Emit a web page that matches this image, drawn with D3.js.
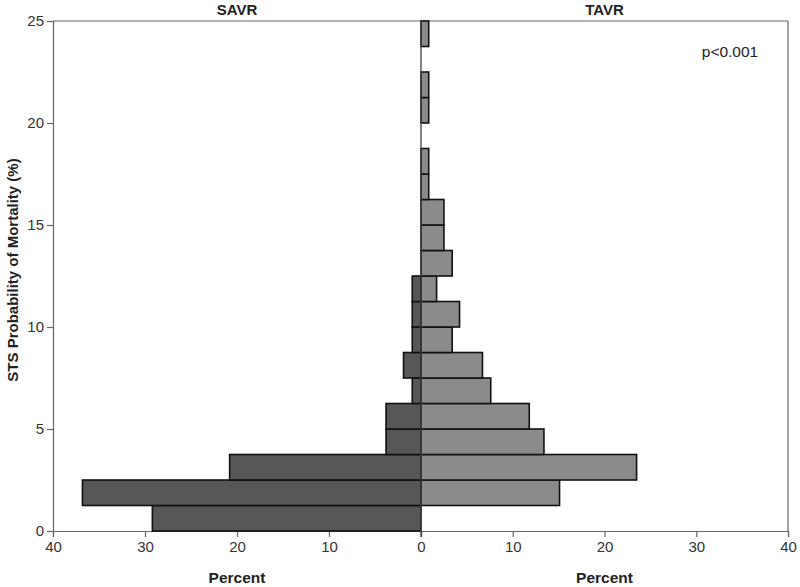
<!DOCTYPE html>
<html><head><meta charset="utf-8">
<script src="https://cdn.jsdelivr.net/npm/d3@7/dist/d3.min.js"></script>
<style>body{margin:0;background:#fff}svg{display:block}text{font-family:"Liberation Sans",Arial,sans-serif}</style>
</head><body><svg id="c" width="800" height="587"></svg>
<script>
// bins of STS probability of mortality (%), width 1.25
const binStarts = [0,1.25,2.5,3.75,5,6.25,7.5,8.75,10,11.25,12.5,13.75,15,16.25,17.5,18.75,20,21.25,22.5,23.75];
const binWidth = 1.25;
const savrPct = [29.2,36.8,20.8,3.8,3.8,0.95,1.9,0.95,0.95,0.95,0,0,0,0,0,0,0,0,0,0];
const tavrPct = [0,15.1,23.5,13.4,11.8,7.6,6.7,3.4,4.2,1.7,3.4,2.5,2.5,0.84,0.84,0,0.84,0.84,0,0.84];
const yTicks = [0,5,10,15,20,25];
const xTicks = [0,10,20,30,40];

const svg = d3.select("#c");
const L = 53, C = 421, R = 788, T = 21, B = 531;
const y = d3.scaleLinear().domain([0,25]).range([B,T]);
const xL = d3.scaleLinear().domain([40,0]).range([L,C]);
const xR = d3.scaleLinear().domain([0,40]).range([C,R]);
const axisCol = "#666";

// frame
svg.append("line").attr("x1",L).attr("x2",R).attr("y1",T).attr("y2",T).attr("stroke",axisCol).attr("stroke-width",1.2);
svg.append("line").attr("x1",R).attr("x2",R).attr("y1",T).attr("y2",B).attr("stroke",axisCol).attr("stroke-width",1.2);

// y axis
const ya = svg.append("g").attr("transform",`translate(${L},0)`).call(d3.axisLeft(y).tickValues(yTicks).tickSize(6).tickPadding(3));
// x axes
const xa1 = svg.append("g").attr("transform",`translate(0,${B})`).call(d3.axisBottom(xL).tickValues(xTicks).tickSize(6).tickPadding(4));
const xa2 = svg.append("g").attr("transform",`translate(0,${B})`).call(d3.axisBottom(xR).tickValues(xTicks.slice(1)).tickSize(6).tickPadding(4));
[ya,xa1,xa2].forEach(g=>{
  g.select(".domain").attr("stroke",axisCol).attr("stroke-width",1.2);
  g.selectAll(".tick line").attr("stroke",axisCol).attr("stroke-width",1.2);
  g.selectAll(".tick text").attr("fill","#333").attr("font-size",15).style("font-family","'Liberation Sans',Arial,sans-serif");
});

// bars
const h = y(0) - y(binWidth);
svg.append("g").selectAll("rect").data(binStarts.map((s,i)=>({s,v:savrPct[i]})).filter(d=>d.v>0))
  .join("rect")
  .attr("x",d=>xL(d.v)).attr("width",d=>C-xL(d.v))
  .attr("y",d=>y(d.s+binWidth)).attr("height",h)
  .attr("fill","#575757").attr("stroke","#111").attr("stroke-width",1.6);
svg.append("g").selectAll("rect").data(binStarts.map((s,i)=>({s,v:tavrPct[i]})).filter(d=>d.v>0))
  .join("rect")
  .attr("x",C).attr("width",d=>xR(d.v)-C)
  .attr("y",d=>y(d.s+binWidth)).attr("height",h)
  .attr("fill","#8b8b8b").attr("stroke","#111").attr("stroke-width",1.6);

// center line
svg.append("line").attr("x1",C).attr("x2",C).attr("y1",T).attr("y2",B+6).attr("stroke","#444").attr("stroke-width",1.3);

// titles
svg.append("text").attr("x",(L+C)/2).attr("y",15).attr("text-anchor","middle").attr("font-size",15).attr("font-weight","bold").attr("fill","#222").text("SAVR");
svg.append("text").attr("x",(C+R)/2).attr("y",15).attr("text-anchor","middle").attr("font-size",15).attr("font-weight","bold").attr("fill","#222").text("TAVR");
svg.append("text").attr("x",(L+C)/2).attr("y",583).attr("text-anchor","middle").attr("font-size",15.5).attr("font-weight","bold").attr("fill","#222").text("Percent");
svg.append("text").attr("x",(C+R)/2).attr("y",583).attr("text-anchor","middle").attr("font-size",15.5).attr("font-weight","bold").attr("fill","#222").text("Percent");
svg.append("text").attr("transform",`translate(18,${(T+B)/2 - 6}) rotate(-90)`).attr("text-anchor","middle").attr("font-size",15).attr("font-weight","bold").attr("fill","#222").text("STS Probability of Mortality (%)");
svg.append("text").attr("x",730).attr("y",57).attr("text-anchor","middle").attr("font-size",15.5).attr("fill","#222").text("p<0.001");
</script></body></html>
